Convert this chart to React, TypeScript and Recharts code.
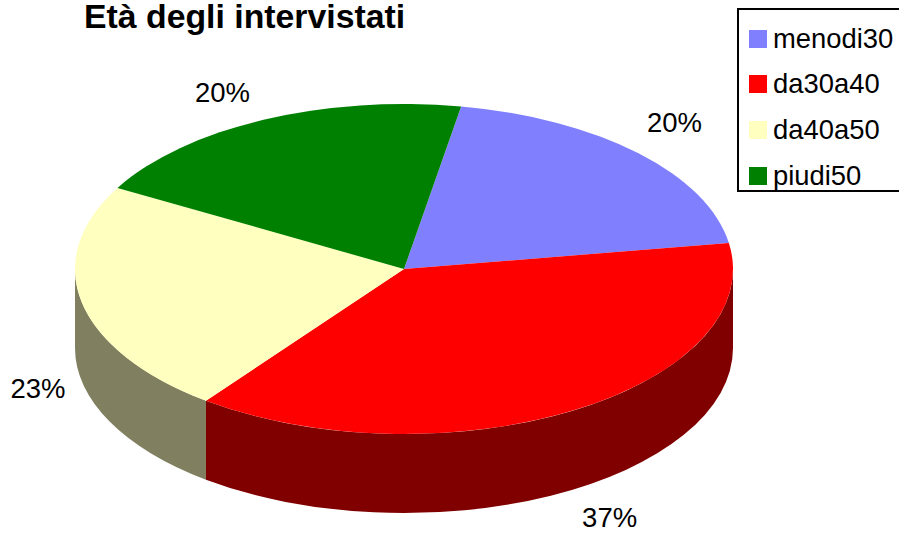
import { PieChart, Pie, Legend } from "recharts"

const ageGroups = ["menodi30", "da30a40", "da40a50", "piudi50"]
const shares = [19.7, 37.8, 22.9, 19.6]
const percentLabels = ["20%", "37%", "23%", "20%"]
const topColors = ["#8080FF", "#FF0000", "#FFFFC0", "#008000"]
const wallColors = ["#404080", "#800000", "#808060", "#004000"]

const pieData = ageGroups.map((name, i) => ({
  name,
  value: shares[i],
  fill: topColors[i],
  wall: wallColors[i],
}))

const FONT = "'Liberation Sans', Arial, sans-serif"
const SQUASH = 165 / 329 // vertical flattening of the disc
const DEPTH = 79

// small hand nudges so the labels sit where the original has them
const labelNudge = [
  [36, -31],
  [36, 107],
  [-44, 86],
  [-41, -27],
]

function ellipsePoint(cx: number, cy: number, r: number, deg: number) {
  const a = (deg * Math.PI) / 180
  return { x: cx + r * Math.cos(a), y: cy - r * SQUASH * Math.sin(a) }
}

function DiscSlice(props: any) {
  const { cx, cy, outerRadius: r, startAngle, endAngle, fill, payload } = props
  const ry = r * SQUASH
  const from = ellipsePoint(cx, cy, r, startAngle)
  const to = ellipsePoint(cx, cy, r, endAngle)
  const large = Math.abs(startAngle - endAngle) > 180 ? 1 : 0

  // side wall, only for the part of the rim facing the viewer
  const wallStart = Math.min(startAngle, 0)
  const wallEnd = Math.max(endAngle, -180)
  let wall = null
  if (wallStart > wallEnd) {
    const a = ellipsePoint(cx, cy, r, wallStart)
    const b = ellipsePoint(cx, cy, r, wallEnd)
    wall = (
      <path
        d={`M${a.x},${a.y} A${r},${ry} 0 0 1 ${b.x},${b.y} L${b.x},${b.y + DEPTH} A${r},${ry} 0 0 0 ${a.x},${a.y + DEPTH} Z`}
        fill={payload.wall}
      />
    )
  }

  return (
    <g>
      {wall}
      <path d={`M${cx},${cy} L${from.x},${from.y} A${r},${ry} 0 ${large} 1 ${to.x},${to.y} Z`} fill={fill} />
    </g>
  )
}

function PercentLabel(props: any) {
  const { cx, cy, outerRadius, midAngle, index } = props
  const p = ellipsePoint(cx, cy, outerRadius, midAngle)
  return (
    <text
      x={p.x + labelNudge[index][0]}
      y={p.y + labelNudge[index][1]}
      textAnchor="middle"
      dominantBaseline="central"
      fontFamily={FONT}
      fontSize={27.5}
      fill="#000"
    >
      {percentLabels[index]}
    </text>
  )
}

function LegendBox({ payload }: any) {
  return (
    <div
      style={{
        boxSizing: "border-box",
        width: 162,
        height: 184,
        border: "2px solid #000",
        borderRight: "none",
        paddingTop: 6,
        paddingLeft: 10,
        fontFamily: FONT,
        fontSize: 27.4,
        background: "#fff",
      }}
    >
      {payload.map((item: any) => (
        <div key={item.value} style={{ display: "flex", alignItems: "center", height: 45.6 }}>
          <span style={{ width: 18, height: 18, background: item.color, marginRight: 6, flex: "none" }} />
          <span>{item.value}</span>
        </div>
      ))}
    </div>
  )
}

export default function App() {
  return (
    <div style={{ position: "absolute", left: 0, top: 0, width: 899, height: 537, overflow: "hidden", background: "#fff" }}>
      <PieChart width={899} height={537} margin={{ top: 0, right: 0, bottom: 0, left: 0 }}>
        <text x={84} y={28} fontFamily={FONT} fontWeight="bold" fontSize={33.8} fill="#000">
          Età degli intervistati
        </text>
        <Pie
          data={pieData}
          dataKey="value"
          nameKey="name"
          cx={404}
          cy={269}
          outerRadius={329}
          startAngle={80}
          endAngle={-280}
          stroke="none"
          shape={DiscSlice}
          label={PercentLabel}
          labelLine={false}
          isAnimationActive={false}
        />
        <Legend
          content={LegendBox}
          itemSorter={null}
          layout="vertical"
          align="right"
          verticalAlign="top"
          wrapperStyle={{ left: 737, top: 8, width: 162 }}
        />
      </PieChart>
    </div>
  )
}
